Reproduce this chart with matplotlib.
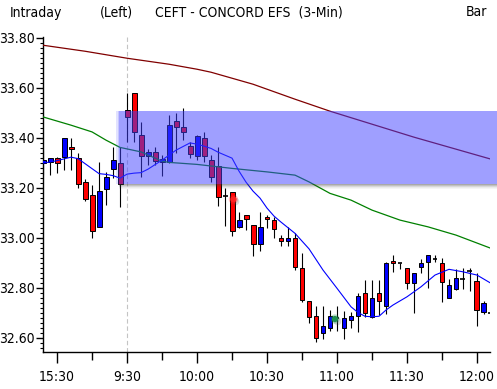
import matplotlib
matplotlib.use("Agg")
import matplotlib.pyplot as plt
from matplotlib import font_manager
from matplotlib.patches import Rectangle
from matplotlib.ticker import FixedLocator, MultipleLocator
from matplotlib.transforms import offset_copy

# bar index: 0 = 9:30 bar, negatives are the previous session's last bars
bar_k = list(range(-12, 53))
opens = [33.30, 33.303, 33.32, 33.323, 33.361, 33.319, 33.221, 33.169, 33.043, 33.193, 33.273, 33.30,
         33.51, 33.577, 33.41, 33.326, 33.341, 33.303, 33.303, 33.467, 33.441, 33.367, 33.326, 33.399,
         33.31, 33.286, 33.167, 33.181, 33.043, 33.089, 33.049, 32.973, 33.081, 33.07, 32.999, 32.986,
         33.00, 32.877, 32.746, 32.686, 32.617, 32.637, 32.678, 32.637, 32.67, 32.687, 32.777, 32.681,
         32.779, 32.726, 32.907, 32.897, 32.877, 32.819, 32.881, 32.901, 32.914, 32.897, 32.759, 32.793,
         32.834, 32.867, 32.827, 32.701, 32.70]
highs = [33.35, 33.32, 33.322, 33.40, 33.40, 33.339, 33.234, 33.21, 33.303, 33.263, 33.361, 33.363,
         33.579, 33.58, 33.463, 33.353, 33.361, 33.33, 33.49, 33.497, 33.517, 33.383, 33.41, 33.423,
         33.33, 33.363, 33.20, 33.181, 33.101, 33.089, 33.049, 33.101, 33.09, 33.083, 33.01, 33.043,
         33.017, 32.937, 32.746, 32.726, 32.726, 32.71, 32.726, 32.707, 32.703, 32.777, 32.83, 32.83,
         32.83, 32.903, 32.93, 32.897, 32.877, 32.857, 32.913, 32.93, 32.93, 32.917, 32.833, 32.873,
         32.877, 32.879, 32.857, 32.746, 32.70]
lows = [33.25, 33.25, 33.26, 33.27, 33.27, 33.20, 33.147, 33.00, 33.041, 33.13, 33.237, 33.121,
        33.383, 33.383, 33.243, 33.29, 33.29, 33.246, 33.30, 33.339, 33.39, 33.32, 33.31, 33.303,
        33.223, 33.126, 33.046, 33.007, 33.037, 33.03, 32.927, 32.947, 33.039, 32.999, 32.967, 32.966,
        32.87, 32.743, 32.657, 32.583, 32.593, 32.626, 32.627, 32.593, 32.637, 32.623, 32.681, 32.677,
        32.69, 32.694, 32.863, 32.874, 32.793, 32.697, 32.857, 32.797, 32.903, 32.743, 32.757, 32.79,
        32.793, 32.787, 32.646, 32.694, 32.675]
closes = [33.31, 33.32, 33.30, 33.40, 33.353, 33.214, 33.153, 33.026, 33.187, 33.241, 33.309, 33.214,
          33.481, 33.423, 33.326, 33.342, 33.307, 33.313, 33.45, 33.443, 33.423, 33.334, 33.407, 33.326,
          33.243, 33.163, 33.167, 33.026, 33.07, 33.073, 32.973, 33.041, 33.073, 33.033, 32.986, 32.999,
          32.881, 32.75, 32.681, 32.598, 32.646, 32.686, 32.678, 32.677, 32.686, 32.766, 32.699, 32.757,
          32.747, 32.897, 32.899, 32.897, 32.819, 32.857, 32.897, 32.93, 32.914, 32.821, 32.81, 32.837,
          32.834, 32.867, 32.71, 32.737, 32.70]

maroon_k = [-12, -6, 0, 6, 10, 12, 18, 24, 29, 35, 41, 47, 52]
maroon_v = [33.77, 33.746, 33.718, 33.694, 33.674, 33.662, 33.614, 33.554, 33.506, 33.454, 33.402,
            33.354, 33.314]
green_k = [-12, -8, -5, -3, -1, 2, 5, 6, 10, 15, 20, 24, 26, 29, 32, 35, 39, 43, 47, 52]
green_v = [33.483, 33.45, 33.423, 33.39, 33.361, 33.343, 33.306, 33.301, 33.293, 33.277, 33.263,
           33.25, 33.223, 33.177, 33.15, 33.11, 33.07, 33.043, 33.01, 32.957]
blue_k = [-12, -10, -8, -7, -6, -5, -4, -3, -2, -1, 0, 1, 2, 3, 5, 7, 9, 10, 11, 12, 13, 14, 15,
          16, 17, 18, 19, 20, 21, 22, 24, 26, 28, 30, 32, 33, 34, 35, 36, 37, 38, 40, 42, 44, 46,
          48, 50, 52]
blue_v = [33.298, 33.308, 33.322, 33.316, 33.296, 33.276, 33.256, 33.253, 33.248, 33.238, 33.254,
          33.258, 33.26, 33.274, 33.31, 33.35, 33.379, 33.374, 33.366, 33.357, 33.342, 33.33, 33.318,
          33.266, 33.222, 33.186, 33.158, 33.118, 33.086, 33.062, 33.017, 32.955, 32.87, 32.797,
          32.723, 32.70, 32.685, 32.683, 32.685, 32.71, 32.73, 32.763, 32.803, 32.85, 32.873, 32.863,
          32.85, 32.817]

band_k0 = -1.15
band_top = 33.506
band_bottom = 33.216

alert_k = [15.2, 29.7]
alert_v = [33.153, 32.674]
alert_colors = ["#ff2020", "#1f8f4f"]

tick_k = [-10, 0, 10, 20, 30, 40, 50]
tick_labels = ["15:30", "9:30", "10:00", "10:30", "11:00", "11:30", "12:00"]
y_ticks = [32.60, 32.80, 33.00, 33.20, 33.40, 33.60, 33.80]


def pick_font():
    fl = font_manager.fontManager.ttflist
    for f in fl:
        if f.name == "Liberation Sans Narrow":
            return "Liberation Sans Narrow", "normal", 12
    for f in fl:
        if f.name == "DejaVu Sans Condensed":
            return "DejaVu Sans Condensed", "normal", 10
        if f.name == "DejaVu Sans" and "condensed" in str(f.stretch):
            return "DejaVu Sans", "condensed", 10
    return "DejaVu Sans", "normal", 9


family, stretch, fs = pick_font()
plt.rcParams["font.family"] = [family]
plt.rcParams["font.stretch"] = stretch
plt.rcParams["font.size"] = fs

W, H = 497, 389
fig = plt.figure(figsize=(W / 100, H / 100), dpi=100)
ax = fig.add_axes([42.7 / W, 37 / H, (490 - 42.7) / W, (352 - 37.5) / H])
ax.set_xlim(-12.05, 51.86)
ax.set_ylim(32.542, 33.801)

for s in ("top", "right"):
    ax.spines[s].set_visible(False)
for s in ("left", "bottom"):
    ax.spines[s].set_linewidth(1.0)

# day separator
ax.axvline(0, color="#c4c4c4", lw=0.8, ls=(0, (4, 2.5)), zorder=1)

# candles
body_w = 0.71
ax.vlines(bar_k, lows, highs, color="black", lw=0.8, zorder=2)
for k, o, c in zip(bar_k, opens, closes):
    if abs(c - o) < 1e-9:
        ax.hlines(o, k - body_w / 2, k + body_w / 2, color="black", lw=1.2, zorder=3)
        continue
    col = "#0000ff" if c > o else "#ff0000"
    ax.bar(k, c - o, bottom=o, width=body_w, color=col, edgecolor="black", linewidth=0.7, zorder=3)

# moving averages
ax.plot(maroon_k, maroon_v, color="#800000", lw=0.9, zorder=4)
ax.plot(green_k, green_v, color="#008000", lw=0.9, zorder=4)
ax.plot(blue_k, blue_v, color="#0000ff", lw=0.8, zorder=4)

# alert markers with a soft shadow
shadow = offset_copy(ax.transData, fig=fig, x=2, y=-2, units="dots")
ax.scatter(alert_k, alert_v, s=30, color="#505050", alpha=0.2, lw=0, transform=shadow, zorder=5)
ax.scatter(alert_k, alert_v, s=45, color=alert_colors, alpha=0.3, lw=0, zorder=5)
ax.scatter(alert_k, alert_v, s=20, color=alert_colors, lw=0, zorder=6)

# highlighted price zone, runs past the right end of the axis
ax.add_patch(Rectangle((band_k0, band_bottom), 60, band_top - band_bottom, facecolor=(0.25, 0.25, 1.0),
                       alpha=0.5, lw=0, clip_on=False, zorder=7))
for i, a in enumerate([0.3, 0.15]):
    x0 = band_k0 - 0.2 * (i + 1)
    ax.add_patch(Rectangle((x0, band_bottom), 0.2, band_top - band_bottom, facecolor=(0.25, 0.25, 1.0),
                           alpha=a, lw=0, clip_on=False, zorder=7))
step = 0.004
for i, a in enumerate([0.45, 0.32, 0.2, 0.1, 0.05]):
    ax.add_patch(Rectangle((band_k0, band_bottom - step * (i + 1)), 60, step, facecolor="#404040",
                           alpha=a, lw=0, clip_on=False, zorder=7))

# axes ticks
ax.xaxis.set_major_locator(FixedLocator(tick_k))
ax.xaxis.set_minor_locator(MultipleLocator(5))
ax.set_xticklabels(tick_labels)
ax.tick_params(axis="x", which="major", length=8, width=1, pad=5)
ax.tick_params(axis="x", which="minor", length=5.5, width=1)
ax.yaxis.set_major_locator(FixedLocator(y_ticks))
ax.yaxis.set_minor_locator(MultipleLocator(0.02))
ax.set_yticklabels([f"{v:.2f}" for v in y_ticks])
ax.tick_params(axis="y", which="major", length=5, width=1, pad=1)
ax.tick_params(axis="y", which="minor", length=2.2, width=0.8)

ty = 1 - 12.5 / H
fig.text(10 / W, ty, "Intraday", ha="left", va="center")
fig.text(100 / W, ty, "(Left)", ha="left", va="center")
fig.text(155 / W, ty, "CEFT - CONCORD EFS  (3-Min)", ha="left", va="center")
fig.text(466 / W, ty, "Bar", ha="left", va="center")

fig.savefig("out.png", dpi=100)
